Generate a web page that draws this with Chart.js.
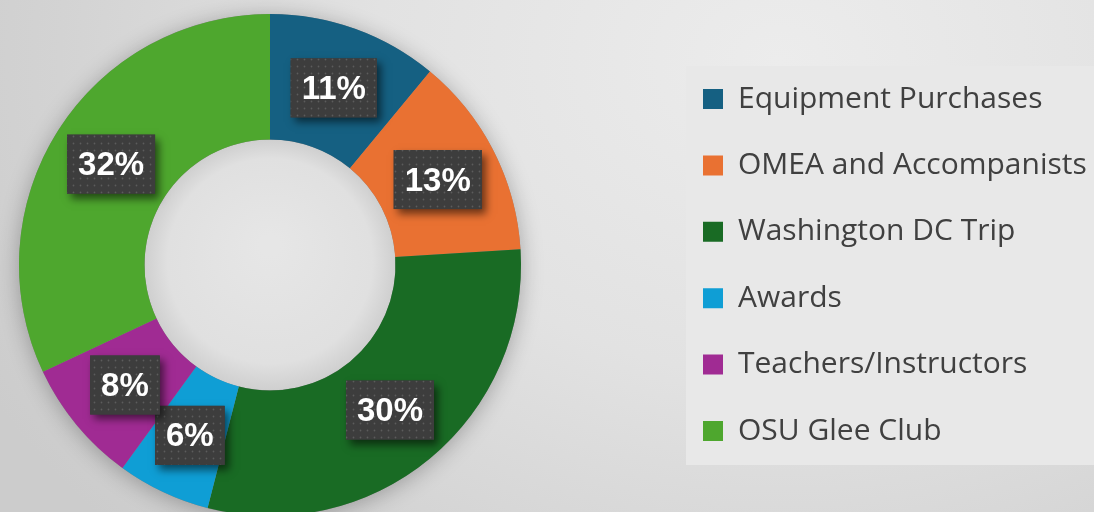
<!DOCTYPE html>
<html>
<head>
<meta charset="utf-8">
<script src="https://cdn.jsdelivr.net/npm/chart.js@4.4.1/dist/chart.umd.min.js"></script>
<style>
  html, body { margin: 0; padding: 0; }
  body { width: 1094px; height: 512px; overflow: hidden;
    background: radial-gradient(ellipse 900px 700px at 780px 60px, #ececec 0%, #e2e2e2 45%, #d3d3d3 80%, #cccccc 100%); }
  #wrap { position: relative; width: 1094px; height: 512px; overflow: hidden; }
  #c { position: absolute; left: 0; top: 0; }
</style>
</head>
<body>
<div id="wrap"><canvas id="c" width="1094" height="540"></canvas></div>
<script>
const categories = ["Equipment Purchases", "OMEA and Accompanists", "Washington DC Trip", "Awards", "Teachers/Instructors", "OSU Glee Club"];
const shares = [11, 13, 30, 6, 8, 32];
const percentLabels = ["11%", "13%", "30%", "6%", "8%", "32%"];
const sliceColors = ["#156082", "#E97132", "#196B24", "#0F9ED5", "#A02B93", "#4EA72E"];

const LEGEND_ITEM_X = 703;
const PLOT_AREA = { left: 19, top: 14, right: 521, bottom: 516 };

function makeDotPattern(ctx) {
  const t = document.createElement('canvas');
  t.width = 7; t.height = 7;
  const g = t.getContext('2d');
  g.fillStyle = '#3d3d3d';
  g.fillRect(0, 0, 7, 7);
  g.fillStyle = '#5c5c5c';
  g.beginPath();
  g.arc(3.5, 3.5, 0.9, 0, Math.PI * 2);
  g.fill();
  return ctx.createPattern(t, 'repeat');
}

const ringShadow = {
  id: 'ringShadow',
  beforeDatasetsDraw(chart) {
    const meta = chart.getDatasetMeta(0);
    if (!meta.data.length) return;
    const a = meta.data[0];
    const ctx = chart.ctx;
    ctx.save();
    ctx.shadowColor = 'rgba(0,0,0,0.28)';
    ctx.shadowBlur = 22;
    ctx.shadowOffsetX = 0;
    ctx.shadowOffsetY = 3;
    ctx.beginPath();
    ctx.arc(a.x, a.y, a.outerRadius, 0, Math.PI * 2);
    ctx.fillStyle = '#888';
    ctx.fill();
    ctx.restore();
    ctx.save();
    ctx.beginPath();
    ctx.arc(a.x, a.y, a.innerRadius, 0, Math.PI * 2);
    ctx.clip();
    const g = ctx.createRadialGradient(a.x, a.y - 20, 10, a.x, a.y, a.innerRadius);
    g.addColorStop(0, '#e6e6e6');
    g.addColorStop(0.8, '#e0e0e0');
    g.addColorStop(1, '#cfcfcf');
    ctx.fillStyle = g;
    ctx.fillRect(a.x - a.innerRadius, a.y - a.innerRadius, a.innerRadius * 2, a.innerRadius * 2);
    ctx.restore();
  }
};

const legendPlace = {
  id: 'legendPlace',
  afterLayout(chart) {
    const lg = chart.legend;
    const pad = lg.options.labels.padding;
    const dx = LEGEND_ITEM_X - (lg.left + pad);
    lg.left += dx; lg.right += dx;
    const ca = chart.chartArea;
    ca.left = PLOT_AREA.left; ca.right = PLOT_AREA.right;
    ca.top = PLOT_AREA.top; ca.bottom = PLOT_AREA.bottom;
    ca.width = ca.right - ca.left; ca.height = ca.bottom - ca.top;
  },
  beforeDraw(chart) {
    const lg = chart.legend;
    const hb = lg.legendHitBoxes;
    if (!hb || !hb.length) return;
    const ctx = chart.ctx;
    const top = hb[0].top - 24;
    const bottom = hb[hb.length - 1].top + hb[hb.length - 1].height + 24;
    ctx.save();
    ctx.fillStyle = '#e8e8e8';
    ctx.fillRect(686, 66, chart.width, 399);
    ctx.restore();
  }
};

const valueBoxes = {
  id: 'valueBoxes',
  afterDatasetsDraw(chart) {
    const ctx = chart.ctx;
    const meta = chart.getDatasetMeta(0);
    const pat = makeDotPattern(ctx);
    ctx.save();
    ctx.font = 'bold 33px "Liberation Sans", Arial, sans-serif';
    ctx.textAlign = 'center';
    ctx.textBaseline = 'middle';
    meta.data.forEach((arc, i) => {
      const p = arc.tooltipPosition();
      const txt = percentLabels[i];
      const w = ctx.measureText(txt).width + 22;
      const h = 59;
      const x = p.x - w / 2, y = p.y - h / 2;
      ctx.save();
      ctx.shadowColor = 'rgba(0,0,0,0.55)';
      ctx.shadowBlur = 8;
      ctx.shadowOffsetX = 4;
      ctx.shadowOffsetY = 5;
      ctx.fillStyle = '#3d3d3d';
      ctx.fillRect(x, y, w, h);
      ctx.restore();
      ctx.fillStyle = pat;
      ctx.fillRect(x, y, w, h);
      ctx.fillStyle = '#ffffff';
      ctx.fillText(txt, p.x, p.y + 2);
    });
    ctx.restore();
  }
};

new Chart(document.getElementById('c'), {
  type: 'doughnut',
  data: {
    labels: categories,
    datasets: [{
      data: shares,
      backgroundColor: sliceColors,
      borderWidth: 0
    }]
  },
  options: {
    responsive: false,
    animation: false,
    cutout: '50%',
    layout: { padding: { left: 19, top: 14, right: 0, bottom: 24 } },
    plugins: {
      tooltip: { enabled: false },
      legend: {
        position: 'right',
        align: 'center',
        labels: {
          boxWidth: 20,
          boxHeight: 20,
          padding: 36.4,
          color: '#404040',
          font: { family: '"Open Sans", "Noto Sans", sans-serif', size: 30 }
        }
      }
    }
  },
  plugins: [ringShadow, legendPlace, valueBoxes]
});
</script>
</body>
</html>
